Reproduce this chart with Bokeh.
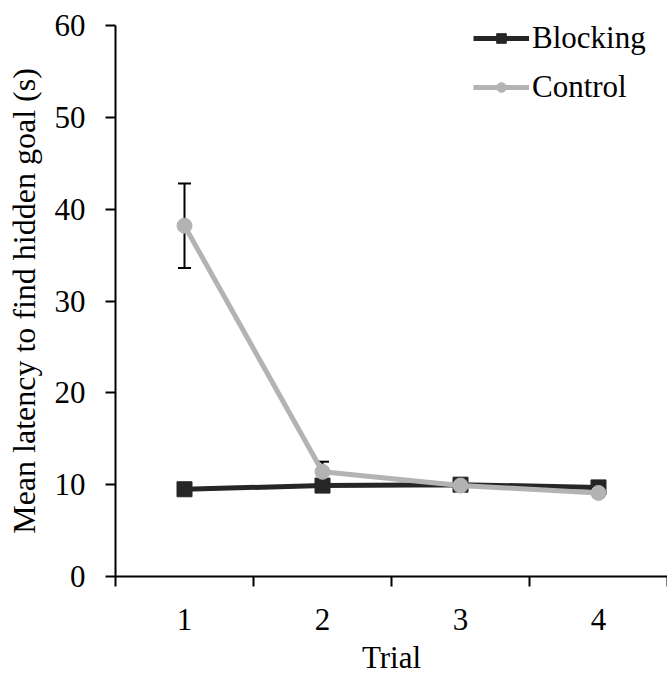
from bokeh.plotting import figure
from bokeh.models import FixedTicker, Legend, LegendItem, Range1d, ColumnDataSource, Whisker, TeeHead
from bokeh.embed import file_html
from bokeh.resources import INLINE

trials = [1, 2, 3, 4]
tick_labels = ["1", "2", "3", "4"]
blocking = [9.5, 9.9, 10.0, 9.7]
blocking_err = [0.3, 0.3, 0.3, 0.3]
control = [38.2, 11.4, 9.9, 9.1]
control_err = [4.6, 1.1, 0.4, 0.4]

FONT = "Liberation Serif"
FS = "31px"
BLACK = "#262626"
GRAY = "#b3b3b3"

p = figure(width=667, height=677, output_backend="svg", toolbar_location=None,
           x_range=Range1d(0.5, 4.5), y_range=Range1d(0, 60),
           min_border_left=115, min_border_right=0, min_border_top=25, min_border_bottom=100)
p.outline_line_color = None
p.xgrid.visible = False
p.ygrid.visible = False
p.background_fill_color = "white"

# error bars
csrc = ColumnDataSource(dict(x=trials, y=control,
                             lo=[c - e for c, e in zip(control, control_err)],
                             hi=[c + e for c, e in zip(control, control_err)]))
bsrc = ColumnDataSource(dict(x=trials, y=blocking,
                             lo=[c - e for c, e in zip(blocking, blocking_err)],
                             hi=[c + e for c, e in zip(blocking, blocking_err)]))
for src in (bsrc, csrc):
    w = Whisker(source=src, base="x", lower="lo", upper="hi", level="underlay",
                line_color="black", line_width=2,
                upper_head=TeeHead(size=13, line_color="black", line_width=2),
                lower_head=TeeHead(size=13, line_color="black", line_width=2))
    p.add_layout(w)

bl = p.line(trials, blocking, line_color=BLACK, line_width=5)
bm = p.scatter(trials, blocking, marker="square", size=15, fill_color=BLACK, line_color=BLACK)
cl = p.line(trials, control, line_color=GRAY, line_width=5)
cm = p.scatter(trials, control, marker="circle", size=15, fill_color=GRAY, line_color=GRAY)

legend = Legend(items=[LegendItem(label="Blocking", renderers=[bl, bm]),
                       LegendItem(label="Control", renderers=[cl, cm])],
                location=(358, 471), border_line_color=None, background_fill_alpha=0,
                label_text_font=FONT, label_text_font_size=FS, label_text_color="black",
                glyph_width=56, glyph_height=24, label_height=24, label_standoff=3, spacing=13,
                padding=0, margin=0)
p.add_layout(legend)

# x axis: labels at centers, ticks at category boundaries
p.xaxis.ticker = FixedTicker(ticks=trials, minor_ticks=[0.5, 1.5, 2.5, 3.5, 4.5])
p.xaxis.major_label_overrides = {t: l for t, l in zip(trials, tick_labels)}
p.xaxis.major_tick_out = 0
p.xaxis.major_tick_in = 0
p.xaxis.minor_tick_out = 10
p.xaxis.minor_tick_in = 0
p.xaxis.minor_tick_line_color = "black"
p.xaxis.minor_tick_line_width = 2
p.xaxis.major_label_standoff = 22
p.xaxis.axis_label = "Trial"
p.xaxis.axis_label_standoff = 7

p.yaxis.ticker = FixedTicker(ticks=[0, 10, 20, 30, 40, 50, 60])
p.yaxis.minor_tick_out = 0
p.yaxis.minor_tick_in = 0
p.yaxis.major_tick_out = 10
p.yaxis.major_tick_in = 0
p.yaxis.major_label_standoff = 20
p.yaxis.axis_label = "Mean latency to find hidden goal (s)"
p.yaxis.axis_label_standoff = 10

for ax in (p.xaxis, p.yaxis):
    ax.axis_line_color = "black"
    ax.axis_line_width = 2
    ax.major_tick_line_color = "black"
    ax.major_tick_line_width = 2
    ax.major_label_text_font = FONT
    ax.major_label_text_font_size = FS
    ax.major_label_text_color = "black"
    ax.axis_label_text_font = FONT
    ax.axis_label_text_font_size = FS
    ax.axis_label_text_font_style = "normal"
    ax.axis_label_text_color = "black"
p.yaxis.axis_label_text_font_size = "32px"

open("out.html", "w").write(file_html(p, INLINE))
